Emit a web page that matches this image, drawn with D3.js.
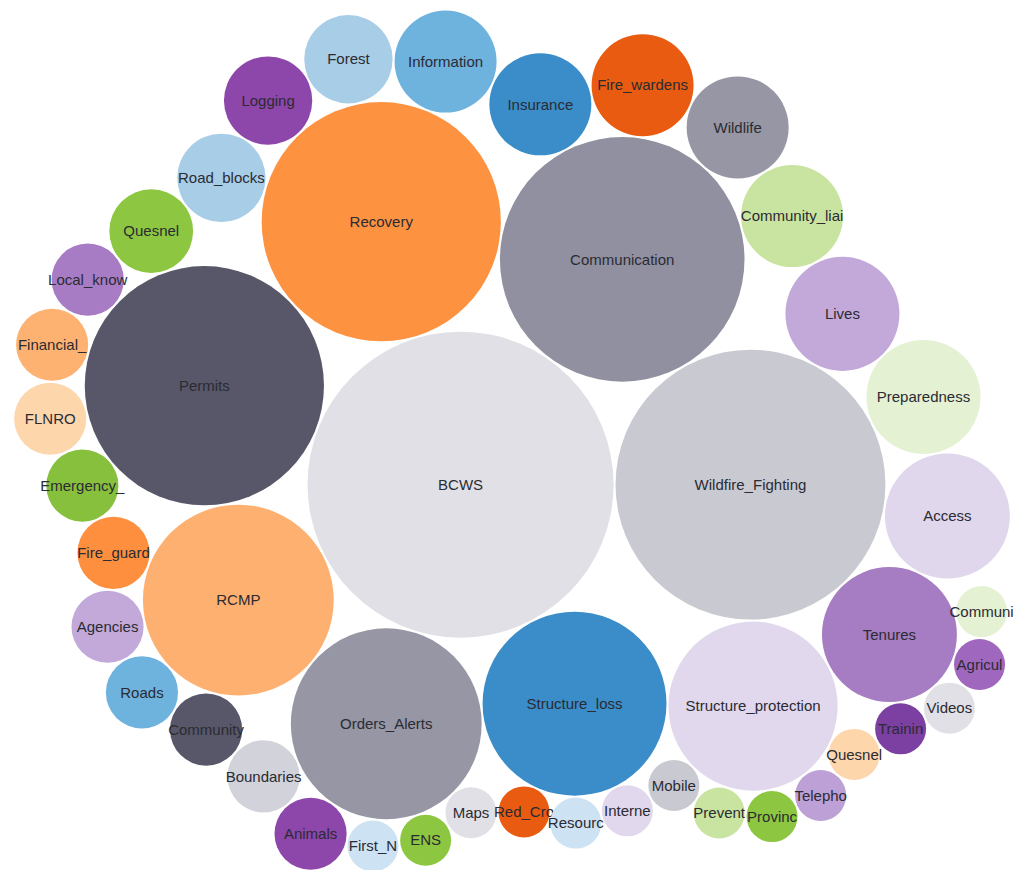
<!DOCTYPE html>
<html>
<head>
<meta charset="utf-8">
<script src="https://cdn.jsdelivr.net/npm/d3@7"></script>
<style>
  body { margin: 0; background: #ffffff; }
  text { font-family: "Liberation Sans", Arial, sans-serif; font-size: 15px; fill: #2b2b33; }
</style>
</head>
<body>
<svg id="chart" width="1029" height="870"></svg>
<script>
// Displayed (truncated) labels, in the order they appear in the data
const categories = [
  "BCWS", "Wildfire_Fighting", "Communication", "Recovery", "Permits", "RCMP",
  "Orders_Alerts", "Structure_loss", "Structure_protection", "Tenures", "Access",
  "Preparedness", "Lives", "Community_liai", "Wildlife", "Fire_wardens", "Insurance",
  "Information", "Forest", "Logging", "Road_blocks", "Quesnel", "Local_know",
  "Financial_", "FLNRO", "Emergency_", "Fire_guard", "Agencies", "Roads", "Community",
  "Boundaries", "Animals", "First_N", "ENS", "Maps", "Red_Cro", "Resourc", "Interne",
  "Mobile", "Prevent", "Provinc", "Telepho", "Quesnel", "Trainin", "Videos", "Agricul",
  "Communi"
];

// Counts (bubble area is proportional to the value)
const values = [
  36, 28, 23, 22, 22, 14,
  14, 13, 11, 7, 6,
  5, 5, 4, 4, 4, 4,
  4, 3, 3, 3, 2.7, 2,
  2, 2, 2, 2, 2, 2, 2,
  2, 2, 1, 1, 1, 1, 1, 1,
  1, 1, 1, 1, 1, 1, 1, 1,
  1
];

// Fill colour of each bubble
const colors = [
  "#e0e0e6", "#c9c9d1", "#9090a0", "#fd9240", "#575769", "#fdb070",
  "#9696a4", "#3a8dc8", "#e1d8ed", "#a67cc2", "#e0d7ec",
  "#e4f1d3", "#c2a9da", "#c8e4a0", "#9696a4", "#e85b10", "#3a8dc8",
  "#6eb2de", "#a8cde6", "#8d46aa", "#a8cde6", "#8dc640", "#a87cc4",
  "#fdb272", "#fdd6ac", "#86c03c", "#fd8f3e", "#c2a9da", "#6eb2de", "#575769",
  "#d2d2da", "#8d46aa", "#cde2f2", "#8dc640", "#e0e0e6", "#e85b10", "#cde2f2", "#e1d8ed",
  "#c9c9d1", "#c8e4a0", "#8dc640", "#bca0d6", "#fdd6ac", "#7c3fa2", "#e0e0e6", "#a067be",
  "#e4f1d3"
];

const W = 1029, H = 870;
const layoutSize = [1024, 882];
const unitRadius = 25.5;
const padding = 2;

// Classic (D3 v3) front-chain circle packing, used by the original bubble chart
function packSiblingsV3(nodes) {
  const n = nodes.length;
  if (!n) return 0;
  let xMin = Infinity, xMax = -Infinity, yMin = Infinity, yMax = -Infinity;
  let a, b, c, i, j, k;
  function bound(d) {
    xMin = Math.min(d.x - d.r, xMin); xMax = Math.max(d.x + d.r, xMax);
    yMin = Math.min(d.y - d.r, yMin); yMax = Math.max(d.y + d.r, yMax);
  }
  function insert(p, q) { const s = p._next; p._next = q; q._prev = p; q._next = s; s._prev = q; }
  function splice(p, q) { p._next = q; q._prev = p; }
  function intersects(p, q) {
    const dx = q.x - p.x, dy = q.y - p.y, dr = p.r + q.r;
    return 0.999 * dr * dr > dx * dx + dy * dy;
  }
  function place(p, q, s) {
    let db = p.r + s.r;
    const dx = q.x - p.x, dy = q.y - p.y;
    if (db && (dx || dy)) {
      let da = q.r + s.r;
      const dc = dx * dx + dy * dy;
      da *= da; db *= db;
      const x = 0.5 + (db - da) / (2 * dc);
      const y = Math.sqrt(Math.max(0, 2 * da * (db + dc) - (db -= dc) * db - da * da)) / (2 * dc);
      s.x = p.x + x * dx + y * dy;
      s.y = p.y + x * dy - y * dx;
    } else {
      s.x = p.x + db; s.y = p.y;
    }
  }
  nodes.forEach(d => { d._next = d._prev = d; });
  a = nodes[0]; a.x = -a.r; a.y = 0; bound(a);
  if (n > 1) {
    b = nodes[1]; b.x = b.r; b.y = 0; bound(b);
    if (n > 2) {
      c = nodes[2]; place(a, b, c); bound(c);
      insert(a, c); a._prev = c; insert(c, b); b = a._next;
      for (i = 3; i < n; i++) {
        place(a, b, c = nodes[i]);
        let isect = 0, s1 = 1, s2 = 1;
        for (j = b._next; j !== b; j = j._next, s1++) {
          if (intersects(j, c)) { isect = 1; break; }
        }
        if (isect === 1) {
          for (k = a._prev; k !== j._prev; k = k._prev, s2++) {
            if (intersects(k, c)) break;
          }
        }
        if (isect) {
          if (s1 < s2 || (s1 === s2 && b.r < a.r)) splice(a, b = j);
          else splice(a = k, b);
          i--;
        } else {
          insert(a, c); b = c; bound(c);
        }
      }
    }
  }
  const cx = (xMin + xMax) / 2, cy = (yMin + yMax) / 2;
  let cr = 0;
  nodes.forEach(d => {
    d.x -= cx; d.y -= cy;
    cr = Math.max(cr, d.r + Math.sqrt(d.x * d.x + d.y * d.y));
    delete d._next; delete d._prev;
  });
  return cr;
}

const rootData = {
  children: categories.map((name, i) => ({ name, value: values[i], color: colors[i] }))
};

const root = d3.hierarchy(rootData)
  .sum(d => d.value || 0)
  .sort((a, b) => b.value - a.value);

const radius = d3.scaleSqrt().domain([0, 1]).range([0, unitRadius]);
const leaves = root.children;
leaves.forEach(d => { d.r = radius(d.value) + padding / 2; });
root.r = packSiblingsV3(leaves);
leaves.forEach(d => {
  d.r -= padding / 2;
  d.x += layoutSize[0] / 2;
  d.y += layoutSize[1] / 2;
});

const svg = d3.select("#chart");

const node = svg.selectAll("g.node")
  .data(leaves)
  .join("g")
  .attr("class", "node")
  .attr("transform", d => `translate(${d.x},${d.y})`);

node.append("circle")
  .attr("r", d => d.r)
  .attr("fill", d => d.data.color);

node.append("text")
  .attr("text-anchor", "middle")
  .attr("dy", "0.35em")
  .text(d => d.data.name);
</script>
</body>
</html>
